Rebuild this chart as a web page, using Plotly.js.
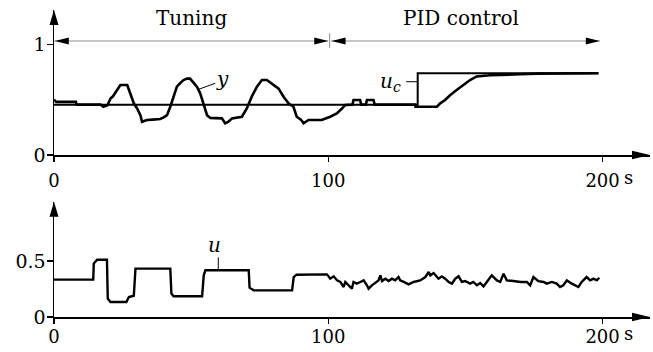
<!DOCTYPE html>
<html>
<head>
<meta charset="utf-8">
<script src="https://cdn.plot.ly/plotly-3.0.1.min.js"></script>
<style>html,body{margin:0;padding:0;background:#fff;}#chart{width:653px;height:352px;}</style>
</head>
<body>
<div id="chart"></div>
<script>
// ---- Data ----
// Top panel: setpoint u_c
var ucTime = [0, 132.6, 132.6, 198.5];
var ucValue = [0.455, 0.455, 0.738, 0.738];

// Top panel: process output y
var yTime = [0, 0.8, 8, 8.2, 17, 18, 19.5, 20.6, 21.5, 22.5, 23.5, 24.2, 26.7, 27.9, 29.1, 30.3, 31.5, 32.1, 33.9, 36, 38.7, 40, 41.2, 42.4, 43.6, 44.8, 46, 47.2, 48.5, 49.6, 51, 52.1, 53.3, 54.5, 55.8, 57, 61.2, 62.4, 63.6, 64.9, 68.5, 70.3, 72.1, 74.0, 75.8, 77.6, 79.4, 81.9, 83.7, 85.5, 87.3, 88.5, 90, 91.0, 92.8, 97.6, 100.7, 103.1, 105, 106.2, 108.8, 109.2, 111.6, 112, 113.7, 114.1, 116.5, 116.9, 131.7, 131.8, 139.6, 140.8, 142.6, 144.4, 146.8, 149.3, 151.7, 154.1, 159, 170, 176, 198.5];
var yValue = [0.50, 0.48, 0.48, 0.455, 0.455, 0.436, 0.45, 0.51, 0.53, 0.57, 0.60, 0.632, 0.632, 0.557, 0.467, 0.42, 0.36, 0.30, 0.316, 0.32, 0.325, 0.34, 0.36, 0.436, 0.527, 0.617, 0.65, 0.677, 0.69, 0.69, 0.65, 0.617, 0.557, 0.452, 0.36, 0.335, 0.331, 0.286, 0.30, 0.331, 0.346, 0.42, 0.527, 0.617, 0.677, 0.677, 0.647, 0.60, 0.527, 0.467, 0.436, 0.346, 0.32, 0.286, 0.316, 0.316, 0.346, 0.376, 0.42, 0.452, 0.455, 0.497, 0.497, 0.455, 0.455, 0.497, 0.497, 0.455, 0.455, 0.436, 0.436, 0.467, 0.497, 0.54, 0.587, 0.632, 0.677, 0.71, 0.72, 0.73, 0.735, 0.738];

// Bottom panel: control signal u
var uTime = [0, 14.3, 14.5, 15.7, 19.3, 19.6, 20.6, 26.4, 27.3, 29.1, 29.7, 42.4, 42.8, 43.6, 54.0, 54.6, 55.2, 71.0, 71.3, 72.8, 86.8, 87.4, 88.4, 99.5,
  100.1, 100.7, 102, 103.2, 104.4, 105.6, 106.2, 107.4, 108.6, 109.2, 110.4, 111.7, 112.9, 114.1, 114.7, 115.9, 117.1, 118.3, 119, 119.6, 120.8, 122, 123.2, 124.4, 125.6, 126.2, 127.5, 129.3, 131.1, 133.5, 135.4, 136.6, 137.2, 138.4, 140.2, 141.4, 142.6, 143.9, 145.1, 146.3, 147.5, 148.7, 149.9,
  151.7, 152.9, 154.2, 155.4, 156.6, 157.8, 159.6, 161.5, 162.7, 163.9, 165.1, 167.5, 170, 172.4, 173.6, 174.8, 176.6, 178.5, 179.7, 181.5, 183.3, 184.5, 185.7, 187, 188.8, 191.2, 192.4, 194.2, 195.5, 196.7, 197.9, 198.8];
var uValue = [0.334, 0.334, 0.477, 0.512, 0.512, 0.164, 0.134, 0.134, 0.179, 0.19, 0.432, 0.432, 0.209, 0.185, 0.185, 0.372, 0.417, 0.417, 0.262, 0.238, 0.238, 0.357, 0.378, 0.381,
  0.363, 0.342, 0.363, 0.327, 0.313, 0.268, 0.313, 0.283, 0.253, 0.313, 0.298, 0.313, 0.327, 0.283, 0.253, 0.283, 0.304, 0.327, 0.372, 0.321, 0.342, 0.321, 0.342, 0.327, 0.357, 0.327, 0.313, 0.292, 0.313, 0.327, 0.357, 0.402, 0.372, 0.393, 0.342, 0.363, 0.342, 0.313, 0.298, 0.342, 0.363, 0.313, 0.321,
  0.298, 0.313, 0.283, 0.304, 0.274, 0.313, 0.372, 0.327, 0.313, 0.387, 0.327, 0.321, 0.313, 0.313, 0.283, 0.357, 0.321, 0.313, 0.298, 0.313, 0.298, 0.268, 0.283, 0.327, 0.298, 0.268, 0.313, 0.357, 0.327, 0.342, 0.327, 0.351];

// Tick labels
var xTickVals = [0, 100, 200];
var xTickText = ['0', '100', '200'];
var yTopTickVals = [0, 1];
var yTopTickText = ['0', '1'];
var yBotTickVals = [0, 0.5];
var yBotTickText = ['0', '0.5'];

// ---- Plot ----
var FONT = 'DejaVu Serif, Liberation Serif, serif';
var XMAX = 217.3;
var traces = [
  {x: ucTime, y: ucValue, xaxis: 'x', yaxis: 'y', mode: 'lines', line: {color: '#000', width: 2}, hoverinfo: 'skip'},
  {x: yTime, y: yValue, xaxis: 'x', yaxis: 'y', mode: 'lines', line: {color: '#000', width: 2.6}, hoverinfo: 'skip'},
  {x: uTime, y: uValue, xaxis: 'x2', yaxis: 'y2', mode: 'lines', line: {color: '#000', width: 2.4}, hoverinfo: 'skip'}
];

function xAx(anchor, standoff) {
  return {anchor: anchor, domain: [0, 1], range: [0, XMAX], showline: true, linewidth: 2, linecolor: '#000',
    ticks: 'outside', ticklen: 5, tickwidth: 1.5, tickcolor: '#000', tickvals: xTickVals, ticktext: xTickText,
    ticklabelstandoff: standoff,
    showgrid: false, zeroline: false, automargin: false, tickfont: {family: FONT, size: 18, color: '#000'}};
}
function yAx(anchor, domain, range, tv, tt) {
  return {anchor: anchor, domain: domain, range: range, showline: true, linewidth: 1.5, linecolor: '#000',
    ticks: 'outside', ticklen: 6, tickwidth: 1.5, tickcolor: '#000', tickvals: tv, ticktext: tt,
    ticklabelstandoff: -3,
    showgrid: false, zeroline: false, automargin: false, tickfont: {family: FONT, size: 19, color: '#000'}};
}

// Plot area in px: x 54..650 (596 px), y 10..317 (307 px)
var PW = 596, PH = 307;
var TOP0 = 0.5277, BOT1 = 0.3756;
function tri(path) {
  return {type: 'path', xref: 'paper', yref: 'paper', path: path, fillcolor: '#000', line: {width: 0}};
}
var ax = 18 / PW, ay = 4.2 / PH, vx = 4.5 / PW, vy = 15 / PH;
function rightArrow(y0) {
  return tri('M1,' + y0 + ' L' + (1 - ax) + ',' + (y0 + ay) + ' L' + (1 - ax) + ',' + (y0 - ay) + ' Z');
}
function upArrow(y0) {
  return tri('M0,' + y0 + ' L' + (-vx) + ',' + (y0 - vy) + ' L' + vx + ',' + (y0 - vy) + ' Z');
}
// phase-arrow heads in data units of top panel (2.743 px per s, 110.7 px per unit)
var hx = 14 / 2.743, hy = 3.5 / 110.7, PY = 1.03;
function phaseHead(tip, dir) {
  var b = tip - dir * hx;
  return {type: 'path', xref: 'x', yref: 'y', path: 'M' + tip + ',' + PY + ' L' + b + ',' + (PY + hy) + ' L' + b + ',' + (PY - hy) + ' Z',
    fillcolor: '#000', line: {width: 0}};
}

var shapes = [
  rightArrow(TOP0), upArrow(1), rightArrow(0), upArrow(BOT1),
  {type: 'line', xref: 'x', yref: 'y', x0: 0, x1: 100, y0: PY, y1: PY, line: {color: '#8c8c8c', width: 1}},
  {type: 'line', xref: 'x', yref: 'y', x0: 101, x1: 199, y0: PY, y1: PY, line: {color: '#8c8c8c', width: 1}},
  {type: 'line', xref: 'x', yref: 'y', x0: 100.5, x1: 100.5, y0: 0.967, y1: 1.10, line: {color: '#8c8c8c', width: 1}},
  phaseHead(0.3, -1), phaseHead(100, 1), phaseHead(101.2, -1), phaseHead(199, 1),
  {type: 'line', xref: 'x', yref: 'y', x0: 52.7, x1: 58.8, y0: 0.593, y1: 0.648, line: {color: '#000', width: 1}},
  {type: 'line', xref: 'x', yref: 'y', x0: 128.4, x1: 132.6, y0: 0.662, y1: 0.662, line: {color: '#000', width: 1}},
  {type: 'line', xref: 'x2', yref: 'y2', x0: 59.9, x1: 59.9, y0: 0.417, y1: 0.533, line: {color: '#000', width: 1}}
];

var annotations = [
  {xref: 'x', yref: 'y', x: 50.3, y: 1.235, text: 'Tuning', showarrow: false, font: {family: FONT, size: 20, color: '#000'}},
  {xref: 'x', yref: 'y', x: 148.3, y: 1.235, text: 'PID control', showarrow: false, font: {family: FONT, size: 20, color: '#000'}},
  {xref: 'x', yref: 'y', x: 61.3, y: 0.69, text: '<i>y</i>', showarrow: false, font: {family: FONT, size: 20, color: '#000'}},
  {xref: 'x', yref: 'y', x: 127.3, y: 0.66, xanchor: 'right', text: '<i>u</i><sub><i>c</i></sub>', showarrow: false, font: {family: FONT, size: 20, color: '#000'}},
  {xref: 'x2', yref: 'y2', x: 58.5, y: 0.64, text: '<i>u</i>', showarrow: false, font: {family: FONT, size: 20, color: '#000'}},
  {xref: 'x', yref: 'y', x: 200, y: 0, xanchor: 'left', yanchor: 'top', xshift: 19, yshift: -10, text: 's', showarrow: false, font: {family: FONT, size: 18, color: '#000'}},
  {xref: 'x2', yref: 'y2', x: 200, y: 0, xanchor: 'left', yanchor: 'top', xshift: 19, yshift: -4, text: 's', showarrow: false, font: {family: FONT, size: 18, color: '#000'}}
];

var layout = {
  width: 653, height: 352,
  margin: {l: 54, r: 3, t: 10, b: 35},
  paper_bgcolor: '#fff', plot_bgcolor: '#fff',
  showlegend: false,
  xaxis: xAx('y', 3),
  yaxis: yAx('x', [TOP0, 1], [0, 1.31], yTopTickVals, yTopTickText),
  xaxis2: xAx('y2', -3),
  yaxis2: yAx('x2', [0, BOT1], [0, 1.03], yBotTickVals, yBotTickText),
  shapes: shapes,
  annotations: annotations,
  font: {family: FONT, color: '#000'}
};

Plotly.newPlot('chart', traces, layout, {displayModeBar: false, staticPlot: true});
</script>
</body>
</html>
